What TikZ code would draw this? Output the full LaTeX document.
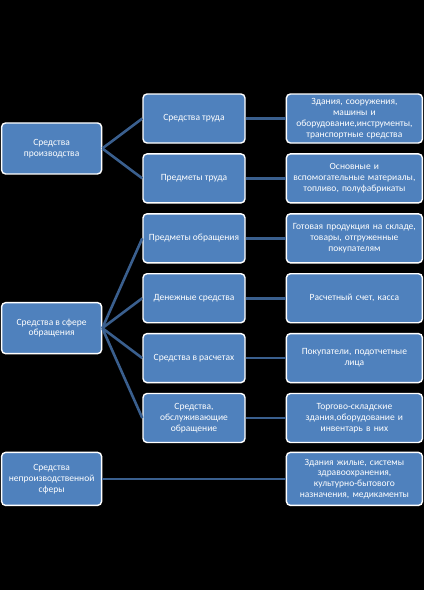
\documentclass[tikz,border=0pt]{standalone}
\usepackage{fontspec}
\setmainfont{Carlito}
\usetikzlibrary{positioning, calc}
\definecolor{cBox}{HTML}{4F81BD}
\definecolor{cLink}{HTML}{3A5F8E}
\tikzset{
  catbox/.style  ={draw=white, rounded corners=4pt, line width=1.4pt,
                   fill=cBox, text=white, align=center,
                   minimum width=100pt, minimum height=51pt,
                   font=\fontsize{9.5}{10.8}\selectfont, inner sep=1pt},
  midbox/.style  ={catbox, minimum width=102pt, minimum height=49pt},
  descbox/.style ={catbox, minimum width=136pt, minimum height=49pt, text width=134pt},
  link/.style    ={line width=2.6pt, draw=cLink},
}

\begin{document}
\begin{tikzpicture}[x=1pt, y=-1pt, node distance=9.5pt and 40pt]

  % background
  \fill[black] (0,0) rectangle (424,590);
  \useasboundingbox (0,0) rectangle (424,590);

  % ============================================================
  % MIDDLE COLUMN
  % ============================================================
  \node[midbox] (m1) at (194,118.5) {Средства труда};
  \node[midbox, below=of m1] (m2) {Предметы труда};
  \node[midbox, below=of m2] (m3) {Предметы обращения};
  \node[midbox, below=of m3] (m4) {Денежные средства};
  \node[midbox, below=of m4] (m5) {Средства в расчетах};
  \node[midbox, below=of m5] (m6) {Средства,\\обслуживающие\\обращение};

  % ============================================================
  % RIGHT COLUMN
  % ============================================================
  \node[descbox, right=of m1] (r1)
    {Здания, сооружения,\\машины и\\оборудование,инструменты,\\транспортные средства};
  \node[descbox, right=of m2] (r2)
    {Основные и\\вспомогательные материалы,\\топливо, полуфабрикаты};
  \node[descbox, right=of m3] (r3)
    {Готовая продукция на складе,\\товары, отгруженные\\покупателям};
  \node[descbox, right=of m4] (r4) {Расчетный счет, касса};
  \node[descbox, right=of m5] (r5) {Покупатели, подотчетные\\лица};
  \node[descbox, right=of m6] (r6)
    {Торгово-складские\\здания,оборудование и\\инвентарь в них};
  \node[descbox, minimum height=53pt, below=8.5pt of r6] (r7)
    {Здания жилые, системы\\здравоохранения,\\культурно-бытового\\назначения, медикаменты};

  % ============================================================
  % LEFT COLUMN
  % ============================================================
  \coordinate (g1) at ($(m1.west)!0.5!(m2.west)$);
  \coordinate (g2) at ($(m3.west)!0.5!(m6.west)$);
  \node[catbox, left=of g1] (l1) {Средства\\производства};
  \node[catbox, left=of g2] (l2) {Средства в сфере\\обращения};
  \node[catbox, minimum height=53pt] (l3) at (l2 |- r7)
    {Средства\\непроизводственной\\сферы};

  % --- links ---
  \draw[link] (l1.east) -- (m1.west);
  \draw[link] (l1.east) -- (m2.west);
  \foreach \m in {m3,m4,m5,m6}
    \draw[link] (l2.east) -- (\m.west);
  \foreach \i in {1,...,6}
    \draw[link] (m\i.east) -- (r\i.west);
  \draw[link] (l3.east) -- (r7.west);

\end{tikzpicture}
\end{document}
